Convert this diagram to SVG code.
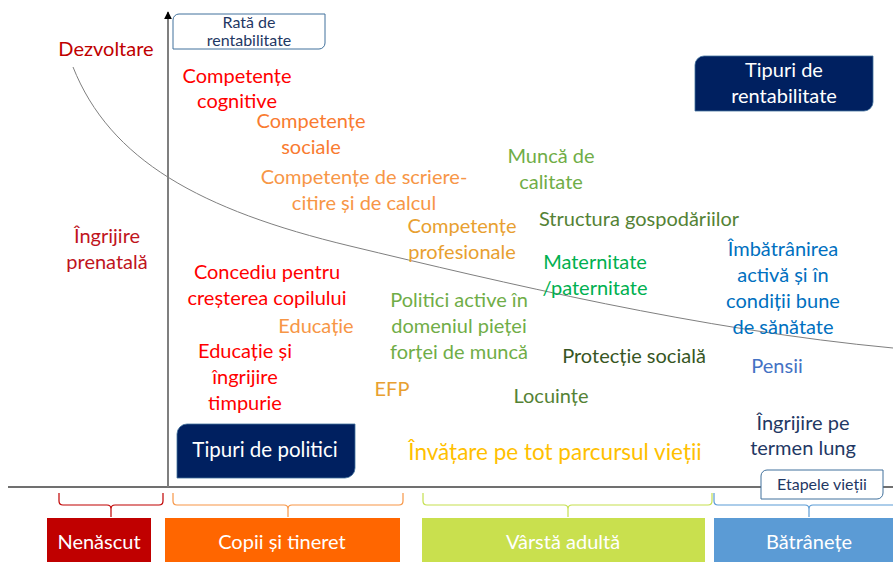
<svg xmlns="http://www.w3.org/2000/svg" width="893" height="562" viewBox="0 0 893 562">
<defs>
<style>
text{font-family:Lato,"Open Sans","Noto Sans",sans-serif;font-size:20px;text-anchor:middle}
.sm{font-size:16px;fill:#1f3864}
.wh{fill:#ffffff}
.navy{fill:#002060}
.brace{fill:none;stroke-width:1.2}
</style>
<marker id="arr" viewBox="0 0 10 10" refX="9" refY="5" markerWidth="8" markerHeight="8" markerUnits="userSpaceOnUse" orient="auto">
<path d="M0,0 L10,5 L0,10 Z" fill="#000"/>
</marker>
</defs>
<rect width="893" height="562" fill="#ffffff"/>
<g id="connectors">
<path d="M73,67 C110,160 200,210 350,246 C500,282 700,330 893,348" fill="none" stroke="#7f7f7f" stroke-width="1"/>
<line x1="8" y1="487" x2="893" y2="487" stroke="#404040" stroke-width="1.5"/>
<line x1="168" y1="487" x2="168" y2="12" stroke="#7f7f7f" stroke-width="2" marker-end="url(#arr)"/>
<path class="brace" stroke="#c00000" d="M59,493 V501 Q59,505 63,505 H107 Q111,505 111,509 V517 M111,509 Q111,505 115,505 H159 Q163,505 163,501 V493"/>
<path class="brace" stroke="#f79646" d="M173,493 V501 Q173,505 177,505 H284 Q288,505 288,509 V517 M288,509 Q288,505 292,505 H399 Q403,505 403,501 V493"/>
<path class="brace" stroke="#c5e04f" d="M423,493 V501 Q423,505 427,505 H564 Q568,505 568,509 V517 M568,509 Q568,505 572,505 H708 Q712,505 712,501 V493"/>
<path class="brace" stroke="#5b9bd5" d="M714,493 V501 Q714,505 718,505 H805 Q809,505 809,509 V517 M809,509 Q809,505 813,505 H900 Q904,505 904,501 V493"/>
</g>
<g id="rata">
<path d="M173,20 A6,6 0 0 1 179,14 H325 V43 A6,6 0 0 1 319,49 H173 Z" fill="#ffffff" stroke="#41719c" stroke-width="1"/>
<text class="sm" x="249" y="28">Rată de</text>
<text class="sm" x="249" y="46">rentabilitate</text>
</g>
<g id="tipuri-rentabilitate">
<path d="M695,65 A9,9 0 0 1 704,56 H873 V102 A9,9 0 0 1 864,111 H695 Z" class="navy" stroke="#41719c" stroke-width="0.8"/>
<text class="wh" x="784" y="77">Tipuri de</text>
<text class="wh" x="784" y="103">rentabilitate</text>
</g>
<g id="tipuri-politici">
<path d="M177,434 A10,10 0 0 1 187,424 H355 V468 A10,10 0 0 1 345,478 H177 Z" class="navy" stroke="#41719c" stroke-width="0.8"/>
<text class="wh" x="265" y="457" style="font-size:20.5px">Tipuri de politici</text>
</g>
<g id="etapele">
<path d="M761,476 A6,6 0 0 1 767,470 H883 V493 A6,6 0 0 1 877,499 H761 Z" fill="#ffffff" stroke="#41719c" stroke-width="1"/>
<text class="sm" x="822" y="490">Etapele vieții</text>
</g>
<g id="dezvoltare"><text x="106" y="56" fill="#c00000">Dezvoltare</text></g>
<g id="prenatala"><text x="107" y="243" fill="#c0141c">Îngrijire</text><text x="107" y="269" fill="#c0141c">prenatală</text></g>
<g id="cognitive"><text x="237" y="83" fill="#ff0000">Competențe</text><text x="237" y="108" fill="#ff0000">cognitive</text></g>
<g id="sociale"><text x="311" y="128" fill="#f97b30">Competențe</text><text x="311" y="154" fill="#f97b30">sociale</text></g>
<g id="scriere"><text x="364" y="184" fill="#f79646">Competențe de scriere-</text><text x="364" y="210" fill="#f79646">citire și de calcul</text></g>
<g id="profesionale"><text x="462" y="233" fill="#e8a030">Competențe</text><text x="462" y="259" fill="#e8a030">profesionale</text></g>
<g id="munca"><text x="551" y="163" fill="#70ad47">Muncă de</text><text x="551" y="189" fill="#70ad47">calitate</text></g>
<g id="structura"><text x="639" y="226" fill="#548235">Structura gospodăriilor</text></g>
<g id="maternitate"><text x="595" y="269" fill="#00b050">Maternitate</text><text x="595" y="295" fill="#00b050">/paternitate</text></g>
<g id="imbatranire"><text x="783" y="256" fill="#0070c0">Îmbătrânirea</text><text x="783" y="282" fill="#0070c0">activă și în</text><text x="783" y="308" fill="#0070c0">condiții bune</text><text x="783" y="334" fill="#0070c0">de sănătate</text></g>
<g id="concediu"><text x="267" y="279" fill="#ff0000">Concediu pentru</text><text x="267" y="305" fill="#ff0000">creșterea copilului</text></g>
<g id="educatie"><text x="316" y="333" fill="#f79646">Educație</text></g>
<g id="educatie-timpurie"><text x="245" y="358" fill="#ff0000">Educație și</text><text x="245" y="384" fill="#ff0000">îngrijire</text><text x="245" y="410" fill="#ff0000">timpurie</text></g>
<g id="politici-active"><text x="459" y="307" fill="#70ad47">Politici active în</text><text x="459" y="333" fill="#70ad47">domeniul pieței</text><text x="459" y="359" fill="#70ad47">forței de muncă</text></g>
<g id="protectie"><text x="634" y="363" fill="#375623">Protecție socială</text></g>
<g id="pensii"><text x="777" y="373" fill="#4472c4">Pensii</text></g>
<g id="efp"><text x="392" y="396" fill="#e8a030">EFP</text></g>
<g id="locuinte"><text x="551" y="403" fill="#548235">Locuințe</text></g>
<g id="invatare"><text x="555" y="460" fill="#ffc000" style="font-size:22.5px">Învățare pe tot parcursul vieții</text></g>
<g id="ingrijire-lung"><text x="803" y="430" fill="#1f3864">Îngrijire pe</text><text x="803" y="455" fill="#1f3864">termen lung</text></g>
<g id="nenascut"><rect x="47" y="518" width="104" height="50" fill="#c00000"/><text class="wh" x="99" y="549">Nenăscut</text></g>
<g id="copii"><rect x="165" y="518" width="235" height="50" fill="#ff6600"/><text class="wh" x="282" y="549">Copii și tineret</text></g>
<g id="adulta"><rect x="422" y="518" width="283" height="50" fill="#c9e04e"/><text class="wh" x="563" y="549">Vârstă adultă</text></g>
<g id="batranete"><rect x="714" y="518" width="185" height="50" fill="#5b9bd5"/><text class="wh" x="809" y="549">Bătrânețe</text></g>
</svg>
